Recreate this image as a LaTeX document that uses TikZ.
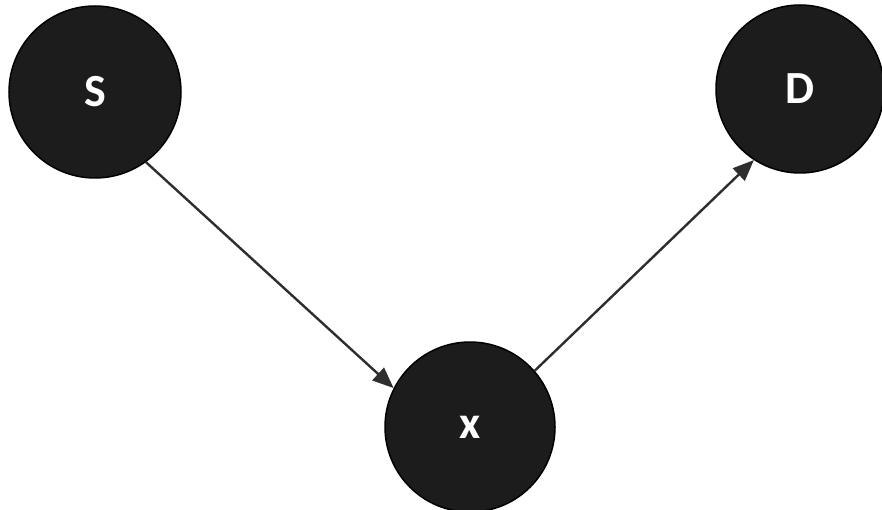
\documentclass[tikz,border=0pt]{standalone}
\usepackage{fontspec}
\setmainfont{Carlito}
\usetikzlibrary{arrows.meta}
\definecolor{nodefill}{HTML}{1C1C1C}
\definecolor{edgecol}{HTML}{2E2E2E}
\tikzset{
  vertex/.style={circle, minimum size=#1, inner sep=0pt, fill=nodefill, draw=black, line width=1.5pt,
    text=white, font=\fontsize{46}{46}\selectfont\bfseries},
  edge/.style={draw=edgecol, line width=2.4pt, -{Triangle[length=21pt,width=17pt]}}
}
\begin{document}
\begin{tikzpicture}[x=1pt,y=-1pt]
\useasboundingbox[fill=white] (0,0) rectangle (882,510);
\node[vertex=172pt] (S) at (95,92) {S};
\node[vertex=168pt] (D) at (800,89) {D};
\node[vertex=170pt] (X) at (470,427) {x};
\draw[edge] (S.-54) -- (X.153);
\draw[edge] (X.41) -- (D.237);
\end{tikzpicture}
\end{document}
